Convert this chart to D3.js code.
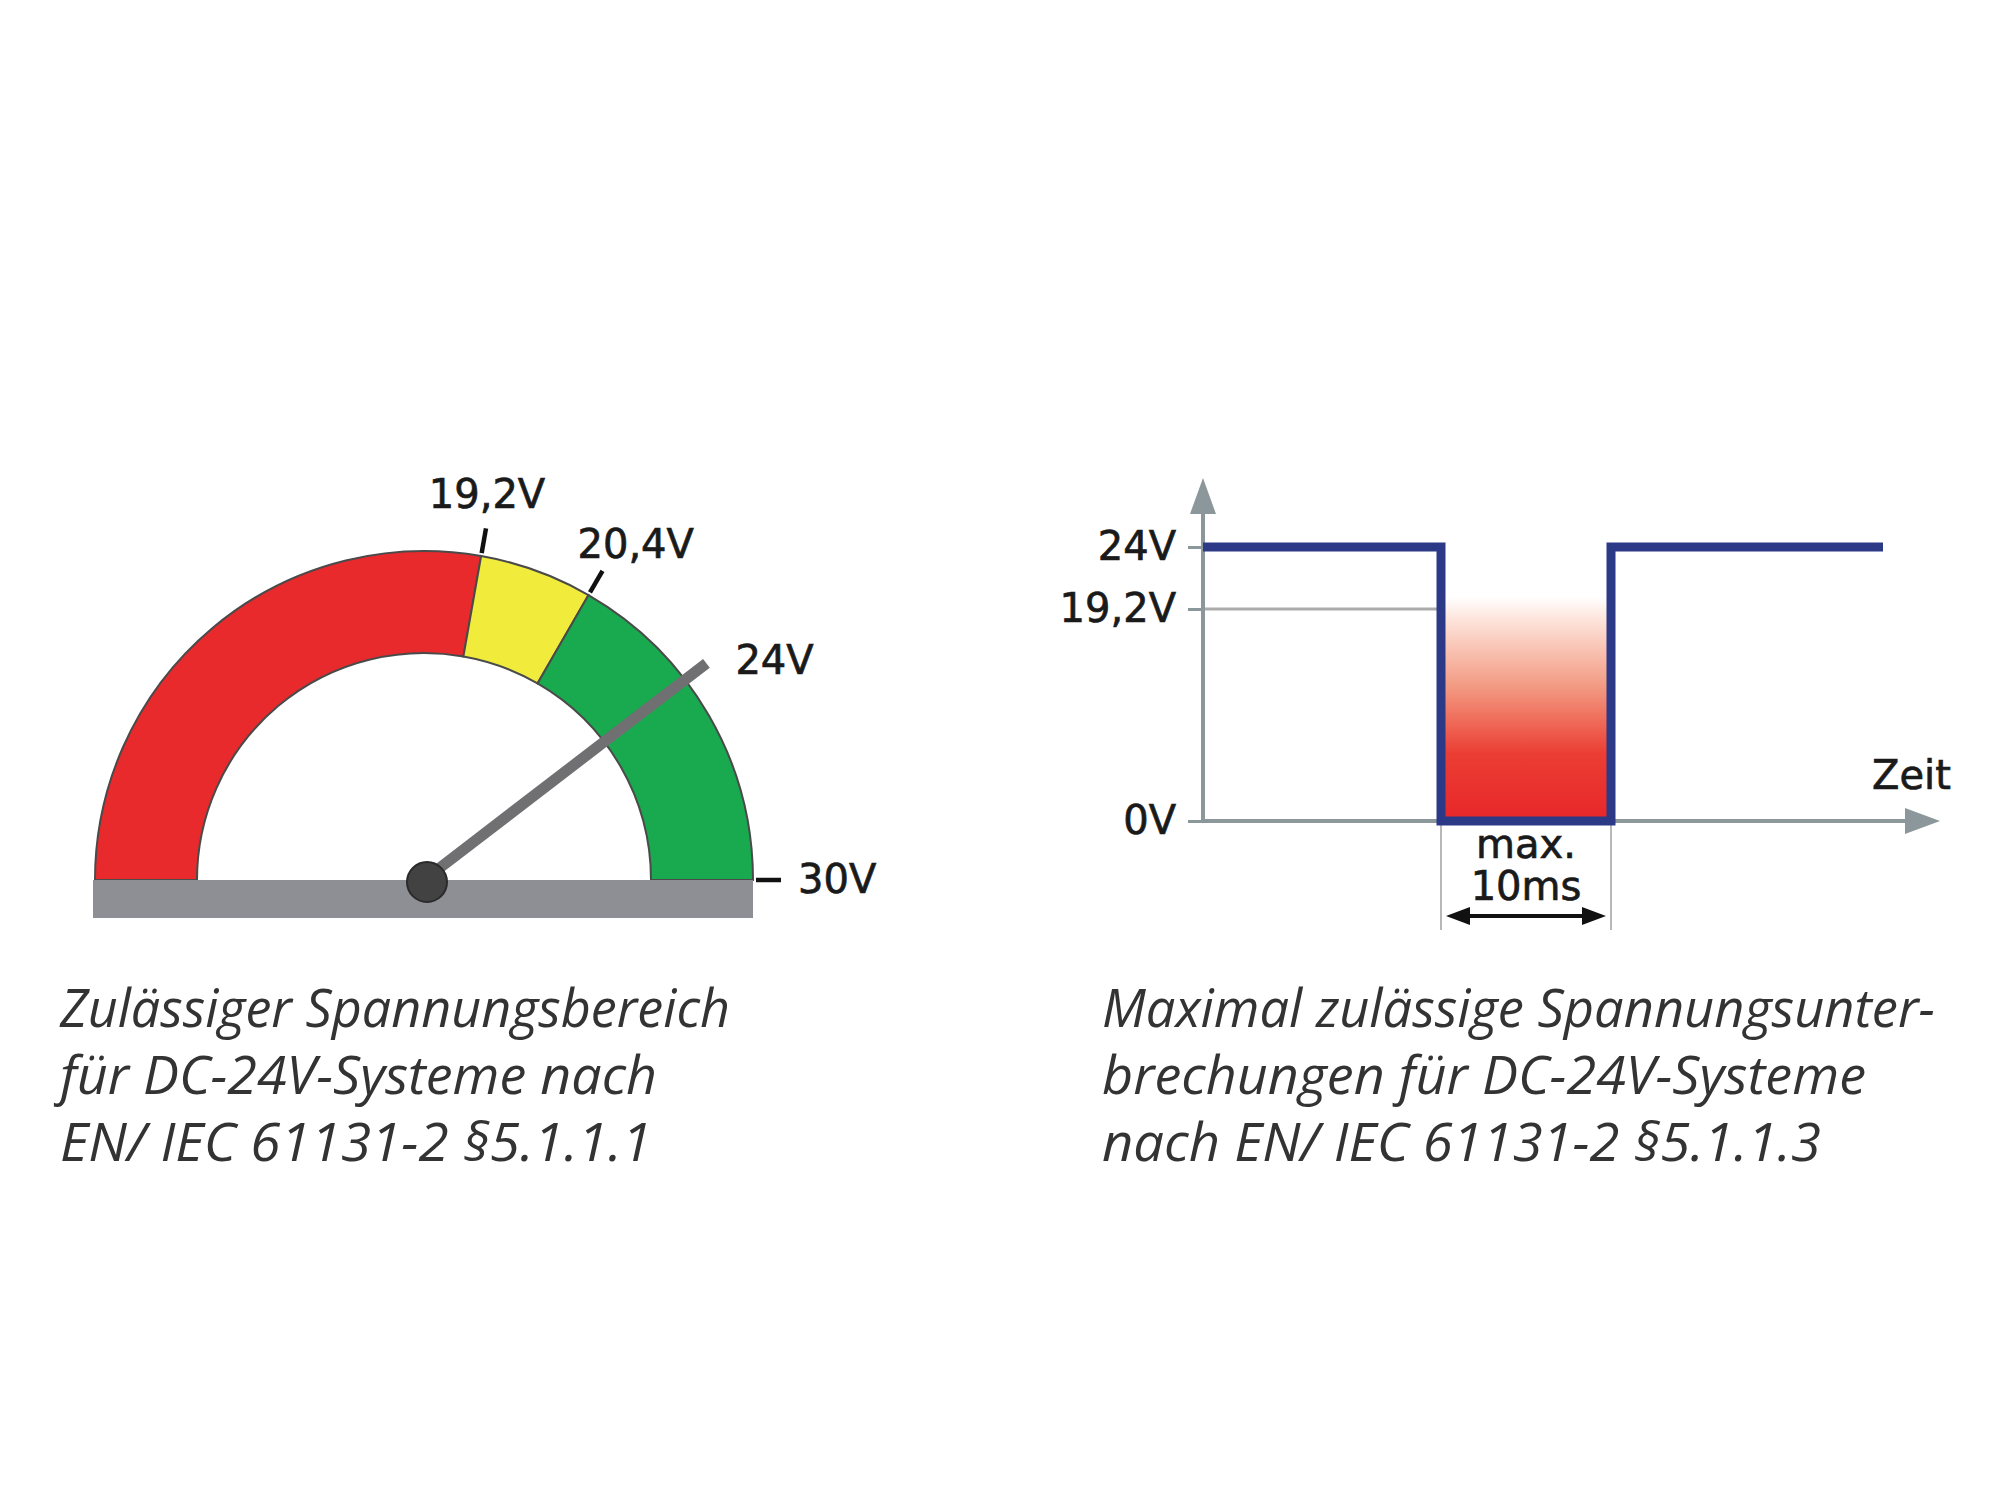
<!DOCTYPE html>
<html><head><meta charset="utf-8">
<script src="https://d3js.org/d3.v7.min.js"></script>
<style>body{margin:0;background:#fff}</style>
</head><body>
<svg id="c" width="2000" height="1500" xmlns="http://www.w3.org/2000/svg"></svg>
<script>
// ---------- DATA ----------
// Gauge (left): voltage zone boundaries
const gaugeStops = [0, 19.2, 20.4, 30];
const gaugeZoneNames = ["unzulässig", "Toleranz", "zulässig"];
const gaugeTickValues = [19.2, 20.4, 30];
const gaugeTickLabels = ["19,2V", "20,4V", "30V"];
const needleValue = 24;
const needleLabel = "24V";

// Interruption chart (right)
const pulseTimes = [0, 14, 14, 24, 24, 40];   // ms
const pulseVolts = [24, 24, 0, 0, 24, 24];    // V
const yTickValues = [24, 19.2, 0];
const yTickLabels = ["24V", "19,2V", "0V"];
const thresholdVolt = 19.2;
const dropout = [14, 24];                       // ms (max. 10ms)
const dropoutLabels = ["max.", "10ms"];
const xAxisLabel = "Zeit";

// Captions
const captionLeft = ["Zulässiger Spannungsbereich", "für DC-24V-Systeme nach", "EN/ IEC 61131-2 §5.1.1.1"];
const captionRight = ["Maximal zulässige Spannungsunter-", "brechungen für DC-24V-Systeme", "nach EN/ IEC 61131-2 §5.1.1.3"];

// ---------- STYLE ----------
const zoneColors = ["#e92a2d", "#f1ec3c", "#19a94f"];
const labelFont = "'DejaVu Sans', Verdana, sans-serif";
const svg = d3.select("#c");
const deg = Math.PI / 180;
function labelStyle(sel) {
  sel.attr("font-family", labelFont).attr("font-size", 40).attr("fill", "#1a1a1a")
     .attr("stroke", "#1a1a1a").attr("stroke-width", 0.7);
}

// ---------- GAUGE ----------
const gcx = 424, gcy = 880, rIn = 227, rOut = 329;
const angle = d3.scaleLinear().domain(gaugeStops).range([-90, 10, 30, 90].map(d => d * deg));
const g = svg.append("g").attr("transform", `translate(${gcx},${gcy})`);
const arc = d3.arc().innerRadius(rIn).outerRadius(rOut);
const zones = d3.pairs(gaugeStops).map(([a, b], i) => ({from: a, to: b, name: gaugeZoneNames[i]}));
g.selectAll("path.zone").data(zones).join("path")
  .attr("class", "zone")
  .attr("d", d => arc({startAngle: angle(d.from), endAngle: angle(d.to)}))
  .attr("fill", (d, i) => zoneColors[i])
  .attr("stroke", "#4a4a4a").attr("stroke-width", 2);

// base bar
g.append("rect").attr("x", -331).attr("y", 0).attr("width", 660).attr("height", 38).attr("fill", "#8e8f94");

const pol = (v, r) => [r * Math.sin(angle(v)), -r * Math.cos(angle(v))];
// ticks
g.selectAll("line.tick").data(gaugeTickValues).join("line")
  .attr("class", "tick")
  .attr("x1", d => pol(d, 332)[0]).attr("y1", d => pol(d, 332)[1])
  .attr("x2", d => pol(d, 357)[0]).attr("y2", d => pol(d, 357)[1])
  .attr("stroke", "#111").attr("stroke-width", 4.5);
const tickLabelOffsets = [[1, -20, "middle"], [-25, -13, "start"], [17, 13, "start"]];
g.selectAll("text.tl").data(gaugeTickValues).join("text")
  .attr("class", "tl")
  .attr("x", (d, i) => pol(d, 357)[0] + tickLabelOffsets[i][0])
  .attr("y", (d, i) => pol(d, 357)[1] + tickLabelOffsets[i][1])
  .attr("text-anchor", (d, i) => tickLabelOffsets[i][2])
  .call(labelStyle)
  .text((d, i) => gaugeTickLabels[i]);

// needle
const tip = pol(needleValue, 356);
g.append("line").attr("x1", 0).attr("y1", 0).attr("x2", tip[0]).attr("y2", tip[1])
  .attr("stroke", "#707072").attr("stroke-width", 11).attr("stroke-linecap", "butt");
g.append("circle").attr("cx", 3).attr("cy", 2).attr("r", 20).attr("fill", "#424242").attr("stroke", "#2a2a2a").attr("stroke-width", 2);
g.append("text").attr("x", tip[0] + 29).attr("y", tip[1] + 11).call(labelStyle).text(needleLabel);

// ---------- INTERRUPTION CHART ----------
const x = d3.scaleLinear().domain([0, 40]).range([1203, 1883]);
const y = d3.scaleLinear().domain([0, 19.2, 24]).range([821, 609, 547]);
const axisCol = "#8c979b";
const r = svg.append("g");

// gradient fill
const defs = svg.append("defs");
const grad = defs.append("linearGradient").attr("id", "drop").attr("x1", 0).attr("y1", 0).attr("x2", 0).attr("y2", 1);
[[0, "#ffffff"], [0.1, "#fde4db"], [0.4, "#f39a82"], [0.7, "#eb3e33"], [1, "#e8262a"]]
  .forEach(([o, c]) => grad.append("stop").attr("offset", o).attr("stop-color", c));
r.append("rect")
  .attr("x", x(dropout[0]) + 4).attr("y", y(thresholdVolt) - 12)
  .attr("width", x(dropout[1]) - x(dropout[0]) - 8).attr("height", y(0) - y(thresholdVolt) + 12)
  .attr("fill", "url(#drop)");

// threshold line
r.append("line").attr("x1", x(0)).attr("x2", x(dropout[0]))
  .attr("y1", y(thresholdVolt)).attr("y2", y(thresholdVolt))
  .attr("stroke", "#ababab").attr("stroke-width", 3);

// y axis with ticks
const yAxis = r.append("g").attr("transform", `translate(${x(0)},0)`)
  .call(d3.axisLeft(y).tickValues(yTickValues).tickFormat((d, i) => yTickLabels[i]).tickSize(15).tickPadding(12));
yAxis.select(".domain").remove();
yAxis.selectAll(".tick line").attr("stroke", axisCol).attr("stroke-width", 3);
yAxis.selectAll(".tick text").call(labelStyle);

// axis lines + arrows
r.append("line").attr("x1", x(0)).attr("x2", x(0)).attr("y1", y(0)).attr("y2", 510)
  .attr("stroke", axisCol).attr("stroke-width", 4);
r.append("path").attr("d", `M${x(0)},478 L${x(0) - 13},514 L${x(0) + 13},514 Z`).attr("fill", axisCol);
r.append("line").attr("x1", x(0)).attr("x2", 1910).attr("y1", y(0)).attr("y2", y(0))
  .attr("stroke", axisCol).attr("stroke-width", 4);
r.append("path").attr("d", `M1940,${y(0)} L1905,${y(0) - 13} L1905,${y(0) + 13} Z`).attr("fill", axisCol);

// dimension lines
r.selectAll("line.dim").data(dropout).join("line").attr("class", "dim")
  .attr("x1", d => x(d)).attr("x2", d => x(d)).attr("y1", y(0)).attr("y2", 930)
  .attr("stroke", "#a0a0a0").attr("stroke-width", 1.5);

// pulse line
const line = d3.line().x(d => x(d[0])).y(d => y(d[1]));
r.append("path").datum(d3.zip(pulseTimes, pulseVolts)).attr("d", line)
  .attr("fill", "none").attr("stroke", "#2c3986").attr("stroke-width", 9).attr("stroke-linejoin", "miter");

// double arrow
const ay = 916, ax1 = x(dropout[0]) + 5, ax2 = x(dropout[1]) - 5;
r.append("line").attr("x1", ax1 + 15).attr("x2", ax2 - 15).attr("y1", ay).attr("y2", ay).attr("stroke", "#111").attr("stroke-width", 4);
r.append("path").attr("d", `M${ax1},${ay} L${ax1 + 24},${ay - 9} L${ax1 + 24},${ay + 9} Z`).attr("fill", "#111");
r.append("path").attr("d", `M${ax2},${ay} L${ax2 - 24},${ay - 9} L${ax2 - 24},${ay + 9} Z`).attr("fill", "#111");

// dropout labels
const mid = x((dropout[0] + dropout[1]) / 2);
r.selectAll("text.dl").data(dropoutLabels).join("text").attr("class", "dl")
  .attr("x", mid).attr("y", (d, i) => 858 + i * 42).attr("text-anchor", "middle")
  .call(labelStyle).text(d => d);

r.append("text").attr("x", 1872).attr("y", 789).call(labelStyle).text(xAxisLabel);

// ---------- CAPTIONS ----------
const capFont = "'Open Sans', 'Noto Sans', sans-serif";
function caption(lines, x0, widths) {
  svg.append("g").selectAll("text").data(lines).join("text")
    .attr("x", x0).attr("y", (d, i) => 1027 + i * 67)
    .attr("font-family", capFont).attr("font-style", "italic").attr("font-weight", 400)
    .attr("font-size", 53).attr("fill", "#333333")
    .attr("textLength", (d, i) => widths[i]).attr("lengthAdjust", "spacingAndGlyphs")
    .text(d => d);
}
caption(captionLeft, 60, [670, 597, 592]);
caption(captionRight, 1102, [833, 764, 719]);
</script>
</body></html>
